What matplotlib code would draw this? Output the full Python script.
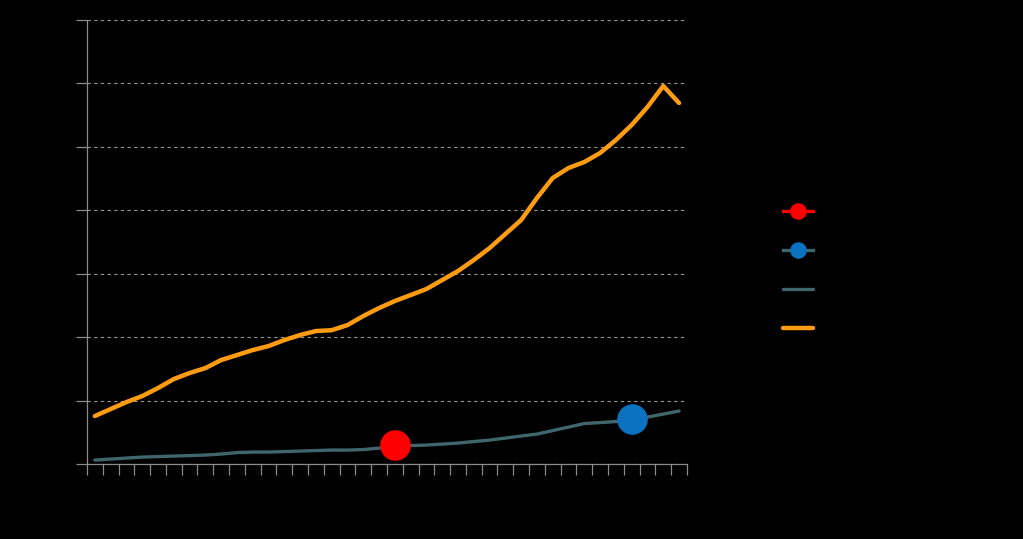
import numpy as np
import matplotlib.pyplot as plt

# values (y axis 0-70, 38 categories)
categories = np.arange(38)

orange_vals = [
    7.57, 8.67, 9.77, 10.72, 11.98, 13.40, 14.35, 15.13, 16.40, 17.18,
    17.97, 18.60, 19.55, 20.34, 20.97, 21.10, 21.91, 23.33, 24.59, 25.70,
    26.64, 27.59, 29.01, 30.43, 32.16, 34.05, 36.26, 38.47, 41.94, 45.09,
    46.67, 47.61, 49.03, 51.08, 53.45, 56.28, 59.59, 56.91,
]
teal_vals = [
    0.63, 0.79, 0.95, 1.10, 1.18, 1.26, 1.34, 1.42, 1.58, 1.81,
    1.89, 1.89, 1.97, 2.05, 2.13, 2.21, 2.21, 2.29, 2.52, 2.76,
    2.92, 3.00, 3.15, 3.31, 3.55, 3.78, 4.10, 4.42, 4.73, 5.28,
    5.83, 6.39, 6.54, 6.70, 7.02, 7.41, 7.88, 8.36,
]
red_point = (19, 3.0)
blue_point = (34, 7.1)
y_ticks = [0, 10, 20, 30, 40, 50, 60, 70]

ORANGE = "#ff9c11"
TEAL = "#3f666d"
RED = "#ff0000"
BLUE = "#0a72c0"
AXIS = "#8c8c8c"

fig = plt.figure(figsize=(10.23, 5.39), dpi=100, facecolor="black")
ax = fig.add_axes([0.085, 0.139, 0.5865, 0.824], facecolor="black")

ax.plot(categories, teal_vals, color=TEAL, lw=2.4, label="series 3",
        solid_capstyle="round", zorder=3)
ax.plot(categories, orange_vals, color=ORANGE, lw=3.2, label="series 4",
        solid_capstyle="round", zorder=3)
ax.plot([red_point[0]], [red_point[1]], color=RED, marker="o", ms=21,
        lw=2.4, label="series 1", zorder=4)
ax.plot([blue_point[0]], [blue_point[1]], color=TEAL, marker="o", ms=21,
        mfc=BLUE, mec=BLUE, lw=2.4, label="series 2", zorder=4)

ax.set_xlim(-0.5, 37.5)
ax.set_ylim(0, 70)
ax.set_xticks(np.arange(-0.5, 38, 1))
ax.set_yticks(y_ticks)
ax.set_xticklabels([])
ax.set_yticklabels([])
ax.tick_params(axis="both", colors=AXIS, length=8, width=0.9, direction="out")
ax.yaxis.grid(True, color="#959595", ls=(0, (3, 3)), lw=0.8)
for side in ["top", "right"]:
    ax.spines[side].set_visible(False)
for side in ["left", "bottom"]:
    ax.spines[side].set_color(AXIS)
    ax.spines[side].set_linewidth(0.9)

handles, labels = ax.get_legend_handles_labels()
order = [2, 3, 0, 1]
leg = ax.legend(
    [handles[i] for i in order], [labels[i] for i in order],
    loc="upper left", bbox_to_anchor=(0.753, 0.643), bbox_transform=fig.transFigure,
    frameon=False, markerscale=0.52, handlelength=2.2, labelspacing=1.8,
    fontsize=10, labelcolor="black",
)

fig.savefig("out.png", dpi=100, facecolor="black")
